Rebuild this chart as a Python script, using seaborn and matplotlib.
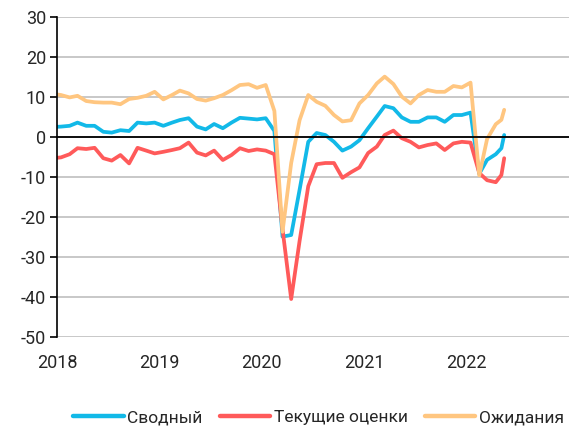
import matplotlib
matplotlib.use("Agg")
import matplotlib.pyplot as plt
import seaborn as sns
import pandas as pd
import numpy as np

# Monthly observations (mid-month), Dec 2017 .. Apr 2022, plus two final May 2022 readings
month_starts = pd.date_range("2017-12-01", "2022-04-01", freq="MS")
dates = list(month_starts + pd.Timedelta(days=14)) + [pd.Timestamp("2022-05-05"), pd.Timestamp("2022-05-15")]

svodny = [2.5, 2.6, 2.8, 3.6, 2.8, 2.8, 1.3, 1.1, 1.7, 1.5, 3.6, 3.4, 3.6,
          2.8, 3.6, 4.25, 4.7, 2.6, 1.9, 3.25, 2.2, 3.6, 4.8, 4.6, 4.4,
          4.7, 1.5, -24.9, -24.5, -13.2, -1.2, 1.0, 0.5, -1.2, -3.4, -2.4, -0.8,
          2.2, 5.1, 7.75, 7.2, 4.9, 3.8, 3.8, 4.9, 4.9, 3.8, 5.5, 5.5,
          6.1, -9.2, -5.7, -4.3, -2.8, 0.5]

tekushchie = [-5.3, -5.1, -4.3, -2.8, -3.0, -2.7, -5.3, -5.9, -4.5, -6.6, -2.7, -3.4, -4.1,
              -3.7, -3.25, -2.8, -1.4, -3.9, -4.6, -3.4, -5.75, -4.5, -2.8, -3.5, -3.1,
              -3.4, -4.3, -23.0, -40.5, -26.0, -12.3, -6.8, -6.5, -6.5, -10.2, -8.8, -7.6,
              -4.0, -2.4, 0.5, 1.6, -0.3, -1.2, -2.6, -2.0, -1.6, -3.25, -1.6, -1.2,
              -1.4, -9.0, -10.8, -11.3, -9.5, -5.3]

ozhidaniya = [10.8, 10.5, 9.9, 10.3, 9.0, 8.7, 8.6, 8.6, 8.2, 9.5, 9.8, 10.3, 11.3,
              9.4, 10.5, 11.6, 10.9, 9.5, 9.1, 9.7, 10.5, 11.7, 13.0, 13.2, 12.3,
              13.0, 6.5, -23.7, -6.5, 4.2, 10.5, 8.8, 7.8, 5.5, 3.9, 4.2, 8.4,
              10.5, 13.4, 15.1, 13.25, 10.1, 8.4, 10.5, 11.75, 11.3, 11.3, 12.75, 12.4,
              13.6, -9.6, -0.5, 3.2, 4.3, 6.8]

series_names = ["Сводный", "Текущие оценки", "Ожидания"]
colors = ["#12B9E8", "#FF5A5A", "#FFC680"]
year_ticks = [2018, 2019, 2020, 2021, 2022]
y_ticks = [30, 20, 10, 0, -10, -20, -30, -40, -50]

def dec_year(d):
    start = pd.Timestamp(year=d.year, month=1, day=1)
    end = pd.Timestamp(year=d.year + 1, month=1, day=1)
    return d.year + (d - start) / (end - start)

xpos = [dec_year(d) for d in dates]
df = pd.concat([
    pd.DataFrame({"x": xpos, "value": vals, "series": name})
    for name, vals in zip(series_names, [svodny, tekushchie, ozhidaniya])
], ignore_index=True)

sns.set_style("white")
plt.rcParams["font.family"] = ["Roboto", "DejaVu Sans"]

fig = plt.figure(figsize=(5.69, 4.33), dpi=100)
ax = fig.add_axes([0.1002, 0.2217, 0.8998, 0.7390])

sns.lineplot(data=df, x="x", y="value", hue="series", hue_order=series_names,
             palette=colors, linewidth=2.7, ax=ax, legend=False, sort=False)

ax.set_xlim(2018, 2023)
ax.set_ylim(-50, 30)
ax.set_yticks(y_ticks)
ax.set_yticklabels([str(v) for v in y_ticks])
ax.yaxis.grid(True, color="#c4c4c4", linewidth=1.3)
ax.xaxis.grid(False)
ax.set_axisbelow(True)

for s in ["top", "right"]:
    ax.spines[s].set_visible(False)
ax.spines["left"].set_color("black")
ax.spines["left"].set_linewidth(1.2)
ax.spines["bottom"].set_position(("data", 0))
ax.spines["bottom"].set_color("black")
ax.spines["bottom"].set_linewidth(1.3)

ax.set_xticks(year_ticks)
ax.tick_params(axis="x", direction="out", length=6, width=1.2, color="black",
               labelbottom=False)
ax.tick_params(axis="y", direction="out", length=5, width=1.2, color="black",
               labelsize=13, pad=3, left=True)
ax.set_xlabel("")
ax.set_ylabel("")

sec = ax.secondary_xaxis("bottom")
sec.set_xticks(year_ticks)
sec.set_xticklabels([str(y) for y in year_ticks])
sec.tick_params(axis="x", length=0, labelsize=13, pad=12)
sec.spines["bottom"].set_visible(False)

handles = [plt.Line2D([], [], color=c, linewidth=3.2) for c in colors]
fig.legend(handles, series_names, loc="center", bbox_to_anchor=(0.56, 0.035),
           ncol=3, frameon=False, fontsize=12.5, handlelength=2.9,
           handletextpad=0.2, columnspacing=1.0)

fig.savefig("out.png", dpi=100)
